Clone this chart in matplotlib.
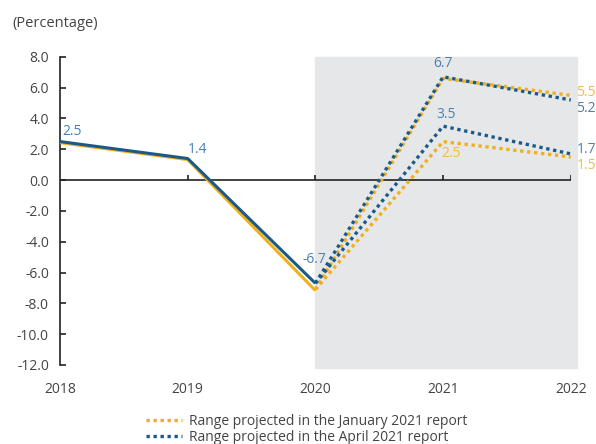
import matplotlib.pyplot as plt

plt.rcParams['font.family'] = ['Open Sans', 'DejaVu Sans']

years = [2018, 2019, 2020, 2021, 2022]
actual_jan = [2.5, 1.4, -7.1]
actual_apr = [2.5, 1.4, -6.7]
proj_years = [2020, 2021, 2022]
jan_high = [-7.1, 6.6, 5.5]
jan_low = [-7.1, 2.5, 1.5]
apr_high = [-6.7, 6.7, 5.2]
apr_low = [-6.7, 3.5, 1.7]
yticks = [8, 6, 4, 2, 0, -2, -4, -6, -8, -10, -12]

yellow = '#f0b01c'
blue = '#1b5a88'
yellow_txt = '#f2bc45'
blue_txt = '#4a80ad'
grey_txt = '#444444'

fig = plt.figure(figsize=(5.96, 4.44), dpi=100)
ax = fig.add_axes([0.1007, 0.178, 0.857, 0.694])

# shaded projection period
ax.axvspan(2020, 2022.05, ymin=-0.01, ymax=1.0, color='#e6e7e9', zorder=0, clip_on=False)

# zero line with small ticks at each year
ax.axhline(0, color='#222222', lw=1.2, xmax=1.0, zorder=1)
ax.vlines(years[1:], 0, 0.3, color='#222222', lw=1.2, zorder=1)

dot = (0, (1, 1.1))
ax.plot(proj_years, jan_high, color=yellow, lw=2.4, ls=dot, zorder=2)
ax.plot(proj_years, jan_low, color=yellow, lw=2.4, ls=dot, zorder=2, label='Range projected in the January 2021 report')
ax.plot(proj_years, apr_high, color=blue, lw=2.4, ls=dot, zorder=3)
ax.plot(proj_years, apr_low, color=blue, lw=2.4, ls=dot, zorder=3, label='Range projected in the April 2021 report')

# outturn lines: yellow sits just under the blue one
ax.plot(years[:3], [v - 0.07 for v in actual_jan], color=yellow, lw=2.2, zorder=4, solid_capstyle='butt')
ax.plot(years[:3], actual_apr, color=blue, lw=2.2, zorder=5, solid_capstyle='butt')

# value labels
fs = 10
ax.annotate(f'{actual_apr[0]}', (2018, actual_apr[0]), xytext=(2, 2), textcoords='offset points', color=blue_txt, fontsize=fs, va='bottom', ha='left')
ax.annotate(f'{actual_apr[1]}', (2019, actual_apr[1]), xytext=(0, 1), textcoords='offset points', color=blue_txt, fontsize=fs, va='bottom', ha='left')
ax.annotate(f'{actual_apr[2]}', (2020, actual_apr[2]), xytext=(8, 17), textcoords='offset points', color=blue_txt, fontsize=fs, va='center', ha='right', zorder=6)
ax.annotate(f'{apr_high[1]}', (2021, apr_high[1]), xytext=(0, 4), textcoords='offset points', color=blue_txt, fontsize=fs, va='bottom', ha='center')
ax.annotate(f'{apr_low[1]}', (2021, apr_low[1]), xytext=(2, 3), textcoords='offset points', color=blue_txt, fontsize=fs, va='bottom', ha='center')
ax.annotate(f'{jan_low[1]}', (2021, jan_low[1]), xytext=(-1, -3), textcoords='offset points', color=yellow_txt, fontsize=fs, va='top', ha='left')
ax.annotate(f'{jan_high[2]}', (2022, jan_high[2]), xytext=(4, 2), textcoords='offset points', color=yellow_txt, fontsize=fs, va='center', ha='left')
ax.annotate(f'{apr_high[2]}', (2022, apr_high[2]), xytext=(4, -6), textcoords='offset points', color=blue_txt, fontsize=fs, va='center', ha='left')
ax.annotate(f'{apr_low[2]}', (2022, apr_low[2]), xytext=(4, 3), textcoords='offset points', color=blue_txt, fontsize=fs, va='center', ha='left')
ax.annotate(f'{jan_low[2]}', (2022, jan_low[2]), xytext=(4, -6), textcoords='offset points', color=yellow_txt, fontsize=fs, va='center', ha='left')

ax.set_xlim(2018, 2022)
ax.set_ylim(-12, 8)
ax.set_yticks(yticks)
ax.set_yticklabels([f'{v:.1f}' for v in yticks])
ax.set_xticks(years)
ax.set_xticklabels([str(y) for y in years])
ax.tick_params(axis='y', direction='in', length=4, width=1.2, color='#222222', labelcolor=grey_txt, labelsize=fs, pad=8)
ax.tick_params(axis='x', length=0, labelcolor=grey_txt, labelsize=fs, pad=12)
for s in ['top', 'right', 'bottom']:
    ax.spines[s].set_visible(False)
ax.spines['left'].set_linewidth(1.2)
ax.spines['left'].set_color('#222222')
ax.set_facecolor('none')

fig.text(0.02, 0.948, '(Percentage)', color=grey_txt, fontsize=10.5, va='center', ha='left')

fig.legend(loc='upper center', bbox_to_anchor=(0.515, 0.083), frameon=False, fontsize=fs,
           labelcolor=grey_txt, handlelength=2.6, handletextpad=0.5, labelspacing=0.05, borderpad=0)

fig.savefig('out.png', dpi=100)
